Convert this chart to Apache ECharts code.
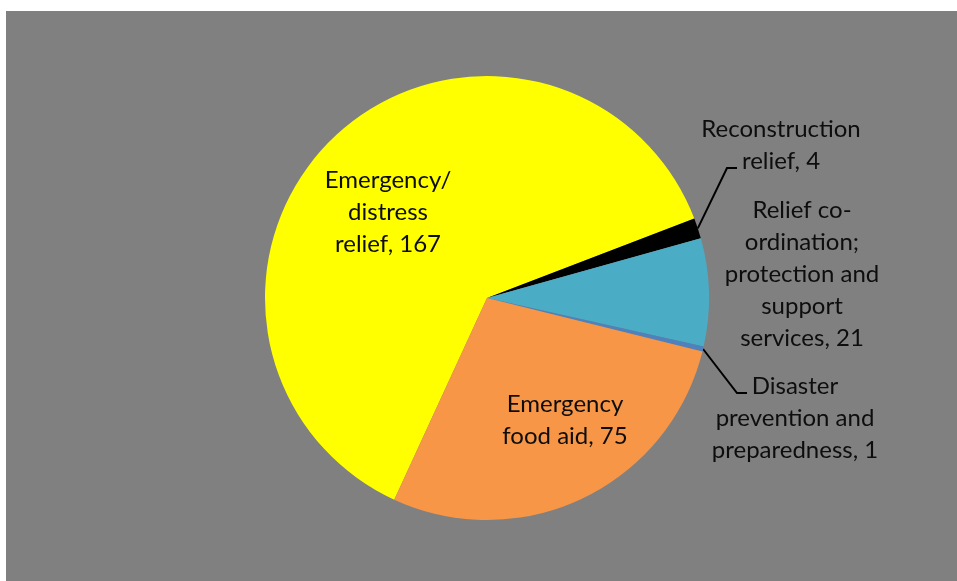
<!DOCTYPE html>
<html>
<head>
<meta charset="utf-8">
<script src="https://cdn.jsdelivr.net/npm/echarts@6/dist/echarts.min.js"></script>
<style>
  html, body { margin: 0; padding: 0; background: #ffffff; }
  #chart { position: absolute; left: 6px; top: 11px; width: 951px; height: 570px; }
</style>
</head>
<body>
<div id="chart"></div>
<script>
// Humanitarian spending by purpose type (US$ millions)
const categories = [
  'Emergency/\ndistress\nrelief',
  'Reconstruction\nrelief',
  'Relief co-\nordination;\nprotection and\nsupport\nservices',
  'Disaster\nprevention and\npreparedness',
  'Emergency\nfood aid'
];
const values = [167, 4, 21, 1, 75];
const colors = ['#ffff00', '#000000', '#4bacc6', '#4f81bd', '#f79646'];

// label anchor (centre of the text block) and optional leader-line end, per slice
const labelPlace = [
  { x: 382, y: 201 },
  { x: 775, y: 134, lead: [-44, 23] },
  { x: 796, y: 263 },
  { x: 789, y: 407, lead: [-48, -25] },
  { x: 559, y: 409 }
];

const chart = echarts.init(document.getElementById('chart'));

const data = categories.map((name, i) => ({
  name: name,
  value: values[i],
  itemStyle: { color: colors[i] },
  labelLine: { show: !!labelPlace[i].lead }
}));

chart.setOption({
  backgroundColor: '#808080',
  animation: false,
  series: [{
    type: 'pie',
    center: [481, 287],
    radius: 222,
    startAngle: -114.7,
    clockwise: true,
    avoidLabelOverlap: false,
    itemStyle: { borderWidth: 0 },
    label: {
      show: true,
      position: 'outside',
      formatter: p => p.name + ', ' + p.value,
      fontFamily: 'Lato, "Open Sans", sans-serif',
      fontSize: 24,
      lineHeight: 32,
      color: '#0d0d0d',
      align: 'center'
    },
    labelLine: {
      show: true,
      length: 10,
      length2: 10,
      smooth: false,
      lineStyle: { color: '#000000', width: 2 }
    },
    labelLayout: function (params) {
      const place = labelPlace[params.dataIndex];
      const out = { x: place.x, y: place.y, align: 'center', verticalAlign: 'middle' };
      if (place.lead && params.labelLinePoints) {
        const start = params.labelLinePoints[0];
        const end = [place.x + place.lead[0], place.y + place.lead[1]];
        out.labelLinePoints = [start, [end[0] - 10, end[1]], end];
      }
      return out;
    },
    data: data
  }]
});
</script>
</body>
</html>
